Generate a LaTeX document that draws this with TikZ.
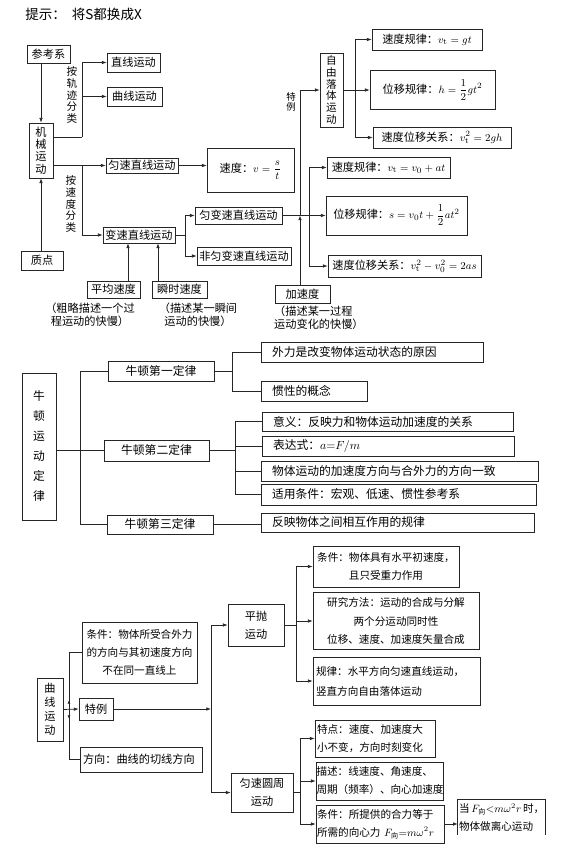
\documentclass[tikz,border=0pt]{standalone}
\usepackage{amsmath}
\usepackage[no-math]{fontspec}
\setmainfont{Noto Sans CJK SC}
\usetikzlibrary{arrows.meta, positioning, decorations.markings}

\def\pxu{0.85pt}

\begin{document}
\begin{tikzpicture}[
    x=\pxu, y=-\pxu,
    font=\fontsize{9.5}{11}\selectfont,
    every node/.style={inner sep=1pt},
    box/.style={draw=black!85, line width=0.6pt, align=center},
    sz/.style 2 args={minimum width=#1*\pxu, minimum height=#2*\pxu},
    set tw/.code 2 args={%
        \pgfmathsetlengthmacro\tw{(#1-2*#2)*0.85pt}%
        \pgfmathsetlengthmacro\tp{#2*0.85pt}%
        \edef\tmp{\noexpand\tikzset{text width=\tw, inner xsep=\tp}}\tmp},
    ltext/.style n args={3}{align=left, minimum height=#2*\pxu, set tw={#1}{#3}},
    lbox/.style n args={3}{box, ltext={#1}{#2}{#3}},
    vbox/.style={box, text width=1em},
    vlabel/.style={align=center, text width=1em, inner sep=0pt},
    note/.style={align=center, inner sep=0pt},
    conn/.style={draw=black!85, line width=0.6pt},
    arr/.style={-{Latex[length=4pt,width=3pt]}},
    mk/.style={postaction={decorate}, decoration={markings,
        mark=at position 8pt with {\arrow{Latex[length=3pt,width=2.5pt]}}}}
]
\fill[white] (0,0) rectangle (580,851);
\useasboundingbox (0,0) rectangle (580,851);

\node[anchor=west, font=\fontsize{11.5}{13}\selectfont] (tip) at (24,14) {提示：\hspace{5pt}将S都换成X};

% Mechanical motion
\node[box, sz={43}{18}] (ckx) at (48.5,54) {参考系};
\node[vbox, sz={24}{55}, font=\fontsize{9.5}{10.5}\selectfont] (jx) at (41,150.5) {机\\械\\运\\动};
\node[box, sz={42}{19}] (zd) at (42,260.5) {质点};
\node[box, sz={53}{19}] (zx) at (133.5,62.5) {直线运动};
\node[box, sz={55}{19}] (qx) at (134.5,96.5) {曲线运动};
\node[box, sz={72}{15}] (ys) at (142,165.5) {匀速直线运动};
\node[box, sz={87}{44}] (sdv) at (250.5,170) {速度：$v=\dfrac{s}{t}$};
\node[box, sz={72}{16}] (bs) at (139,235) {变速直线运动};
\node[box, sz={87}{17}] (ybs) at (238.5,215.5) {匀变速直线运动};
\node[box, sz={94}{18}] (fybs) at (244,256) {非匀变速直线运动};
\node[box, sz={53}{17}] (pj) at (113.5,289.5) {平均速度};
\node[box, sz={55}{17}] (ss) at (179.5,289.5) {瞬时速度};
\node[box, sz={55}{18}] (jsd) at (302.5,294) {加速度};
\node[note] (pjn) at (90,315) {（粗略描述一个过\\程运动的快慢）};
\node[note] (ssn) at (198,315) {（描述某一瞬间\\运动的快慢）};
\node[note, align=left, anchor=north west] (jsdn) at (274,306) {（描述某一过程\\运动变化的快慢）};

\node[vlabel, font=\fontsize{9}{9.8}\selectfont] (gjfl) at (72,95) {按\\轨\\迹\\分\\类};
\node[vlabel, font=\fontsize{9}{9.8}\selectfont] (sdfl) at (71,204) {按\\速\\度\\分\\类};
\node[vlabel, font=\fontsize{8}{8.6}\selectfont] (tl) at (291,102) {特\\例};

\node[vbox, sz={23}{74}, font=\fontsize{9}{10}\selectfont] (zy) at (331.5,90) {自\\由\\落\\体\\运\\动};
\node[box, sz={110}{21}] (g1) at (427,39.5) {速度规律：$v_{\mathrm t}=gt$};
\node[box, sz={125}{39}] (g2) at (432.5,90) {位移规律：$h=\dfrac{1}{2}gt^2$};
\node[box, sz={138}{21}] (g3) at (442,137.5) {速度位移关系：$v_{\mathrm t}^2=2gh$};
\node[box, sz={123}{21}] (a1) at (388.5,167.5) {速度规律：$v_{\mathrm t}=v_0+at$};
\node[box, sz={141}{39}] (a2) at (396.5,215.5) {位移规律：$s=v_0t+\dfrac{1}{2}at^2$};
\node[box, sz={153}{22}] (a3) at (404.5,266) {速度位移关系：$v_{\mathrm t}^2-v_0^2=2as$};

\coordinate (gj) at (82,137);
\coordinate (sd) at (82,165.5);
\coordinate (bj) at (185,0);
\coordinate (pjx) at (128,0);
\coordinate (ssx) at (158,0);
\coordinate (aj) at (309,0);
\coordinate (tx) at (300,0);
\coordinate (fj) at (355,0);

\draw[conn, arr] (ckx.south -| jx.north) -- (jx.north);
\draw[conn, arr] (zd.north -| jx.south) -- (jx.south);
\draw[conn] (jx.east |- gj) -- (gj);
\draw[conn, arr] (gj) |- (zx.west);
\draw[conn, arr] (gj) |- (qx.west);
\draw[conn, arr] (jx.east |- sd) -- (ys.west);
\draw[conn, arr] (sd) |- (bs.west);
\draw[conn, arr] (ys.east) -- (ys.east -| sdv.west);
\draw[conn] (bs.east) -- (bs.east -| bj);
\draw[conn, arr] (bs.east -| bj) |- (ybs.west);
\draw[conn, arr] (bs.east -| bj) |- (fybs.west);
\draw[conn, arr] (pj.north -| pjx) -- (bs.south -| pjx);
\draw[conn, arr] (ss.north -| ssx) -- (bs.south -| ssx);
\draw[conn, arr] (ybs.east) -- (a2.west);
\draw[conn, arr] (ybs.east -| aj) |- (a1.west);
\draw[conn, arr] (ybs.east -| aj) |- (a3.west);
\draw[conn, arr] (jsd.north -| tx) -- (ybs.east -| tx);
\draw[conn, arr] (ybs.east -| tx) |- (zy.west);
\draw[conn] (zy.east) -- (zy.east -| fj);
\draw[conn, arr] (zy.east -| fj) |- (g1.west);
\draw[conn, arr] (zy.east -| fj) -- (g2.west);
\draw[conn, arr] (zy.east -| fj) |- (g3.west);

% Newton's laws
\begin{scope}[font=\fontsize{10}{12}\selectfont]
\node[vbox, sz={34}{147}, font=\fontsize{10}{17}\selectfont] (nd) at (39,446.5) {牛\\顿\\运\\动\\定\\律};
\node[box, sz={106}{20}] (n1) at (161,371) {牛顿第一定律};
\node[box, sz={105}{21}] (n2) at (156.5,450.5) {牛顿第二定律};
\node[box, sz={106}{19}] (n3) at (160,524.5) {牛顿第三定律};
\node[lbox={222}{20}{11}] (f1) at (372,352) {外力是改变物体运动状态的原因};
\node[lbox={106}{20}{11}] (f2) at (314,391) {惯性的概念};
\node[lbox={251}{19}{11}] (s1) at (387.5,421.5) {意义：反映力和物体运动加速度的关系};
\node[lbox={252}{20}{11}] (s2) at (388,446) {表达式：$a{=}F/m$};
\node[lbox={277}{20}{11}] (s3) at (399.5,471) {物体运动的加速度方向与合外力的方向一致};
\node[lbox={275}{21}{11}] (s4) at (398.5,494.5) {适用条件：宏观、低速、惯性参考系};
\node[lbox={273}{19}{11}] (t1) at (397.5,522.5) {反映物体之间相互作用的规律};
\end{scope}

\coordinate (nt) at (80,0);
\coordinate (n1j) at (232,0);
\coordinate (n2j) at (235,0);

\draw[conn] (nd.east |- n2.west) -- (n2.west);
\draw[conn] (n1.west) -| (nt |- n3.west) -- (n3.west);
\draw[conn] (n1.east) -- (n1.east -| n1j);
\draw[conn] (f1.west) -| (n1j |- f2.west) -- (f2.west);
\draw[conn] (n2.east) -- (n2.east -| n2j);
\draw[conn] (s1.west) -| (n2j |- s4.west) -- (s4.west);
\draw[conn] (n2j |- s2.west) -- (s2.west);
\draw[conn] (n2j |- s3.west) -- (s3.west);
\draw[conn] (n3.east) -- (n3.east -| t1.west);

% Curvilinear motion
\begin{scope}[font=\fontsize{9}{15.3}\selectfont]
\node[vbox, sz={26}{63}, font=\fontsize{9.5}{12}\selectfont] (qxyd) at (50,709.5) {曲\\线\\运\\动};
\node[box, sz={115}{61}] (tj) at (139.5,652.5) {条件：物体所受合外力\\的方向与其初速度方向\\不在同一直线上};
\node[box, sz={34}{22}, font=\fontsize{9.5}{11}\selectfont] (tl2) at (96,709) {特例};
\node[lbox={122}{25}{3}, font=\fontsize{9.5}{11}\selectfont] (fx) at (141,759.5) {方向：曲线的切线方向};
\node[box, sz={56}{42}, font=\fontsize{9.5}{15.3}\selectfont] (pp) at (256,625) {平抛\\运动};
\node[box, sz={62}{39}, font=\fontsize{9.5}{15.3}\selectfont] (yz) at (262,792.5) {匀速圆周\\运动};
\node[box, sz={146}{41}] (p1) at (386,566.5) {条件：物体具有水平初速度，\\且只受重力作用};
\node[box, sz={166}{57}, font=\fontsize{9}{16}\selectfont] (p2) at (396,621) {研究方法：运动的合成与分解\\两个分运动同时性\\位移、速度、加速度矢量合成};
\node[lbox={167}{48}{3}, font=\fontsize{9}{17}\selectfont] (p3) at (396.5,681) {规律：水平方向匀速直线运动，\\竖直方向自由落体运动};
\node[lbox={120}{37}{2}] (c1) at (375,738.5) {特点：速度、加速度大\\小不变，方向时刻变化};
\node[lbox={127}{38}{0.5}] (c2) at (379.5,781) {描述：线速度、角速度、\\周期（频率）、向心加速度};
\node[lbox={128}{38}{1}] (c3) at (380,824) {条件：所提供的合力等于\\所需的向心力 $F_{\text{向}}{=}m\omega^2r$};
\node[ltext={87}{35}{1}] (dd) at (501.5,817.5) {当\,$F_{\text{向}}{<}m\omega^2r$\,时，\\物体做离心运动};
\end{scope}
\draw[conn] (dd.south west) |- (dd.north east) -- (dd.south east);

\coordinate (qj) at (69,0);
\coordinate (sj) at (211,0);
\coordinate (pj2) at (296,0);
\coordinate (yj) at (300,0);

\draw[conn, arr] (qxyd.east) -- (tl2.west);
\draw[conn, mk] (qxyd.east -| qj) |- (tj.west);
\draw[conn, mk] (qxyd.east -| qj) |- (fx.west);
\draw[conn, arr] (tl2.east) -- (tl2.east -| sj);
\draw[conn, arr] (tl2.east -| sj) |- (pp.west);
\draw[conn, arr] (tl2.east -| sj) |- (yz.west);
\draw[conn] (pp.east) -- (pp.east -| pj2);
\draw[conn, arr] (pp.east -| pj2) |- (p1.west);
\draw[conn, arr] (pp.east -| pj2) |- (p2.west);
\draw[conn, arr] (pp.east -| pj2) |- (p3.west);
\draw[conn] (yz.east) -- (yz.east -| yj);
\draw[conn, arr] (yz.east -| yj) |- (c1.west);
\draw[conn, arr] (yz.east -| yj) |- (c2.west);
\draw[conn, arr] (yz.east -| yj) |- (c3.west);
\draw[conn, arr] (c3.east) -- (c3.east -| dd.west);

\end{tikzpicture}
\end{document}
